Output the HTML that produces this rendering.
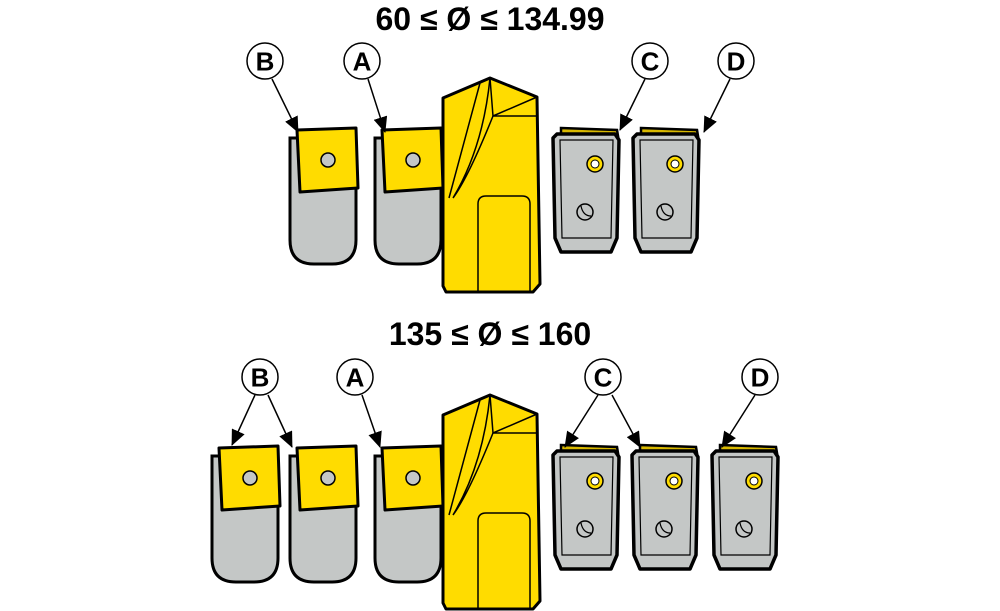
<!DOCTYPE html>
<html><head><style>html,body{margin:0;padding:0;background:#fff;}svg{display:block}</style></head>
<body>
<svg width="1000" height="611" viewBox="0 0 1000 611" xmlns="http://www.w3.org/2000/svg">
<defs>
<marker id="ah" markerWidth="16" markerHeight="14" refX="15" refY="7" orient="auto" markerUnits="userSpaceOnUse"><path d="M0,0 L16,7 L0,14z" fill="#000"/></marker>
<g id="holder">
  <path d="M0,8 L0,110 Q0,134 24,134 L42,134 Q66,134 66,110 L66,8 Z" fill="#c4c7c6" stroke="#000" stroke-width="3"/>
  <path d="M7,0 L66,-2 L68,58 L10,62 Z" fill="#ffdc00" stroke="#000" stroke-width="3" stroke-linejoin="round"/>
  <circle cx="38" cy="30" r="7" fill="#c4c7c6" stroke="#000" stroke-width="1.5"/>
</g>
<g id="drill">
  <path d="M0,20 L47,0 L94,19 L97,206 L90,214 L3,214 L0,208 Z" fill="#ffdc00" stroke="#000" stroke-width="3" stroke-linejoin="round"/>
  <path d="M47,0 L50,38 L94,19 M50,38 L95,38" fill="none" stroke="#000" stroke-width="1.5"/>
  <path d="M37,5 L6,120 M47,0 Q40,70 10,120 M50,38 Q25,100 10,120" fill="none" stroke="#000" stroke-width="1.5"/>
  <path d="M35,214 L35,126 Q35,118 43,118 L79,118 Q87,118 87,126 L87,214" fill="none" stroke="#000" stroke-width="1.5"/>
</g>
<g id="cart">
  <path d="M8,0 L64,2 L66,14 L8,12 Z" fill="#d8b800" stroke="#000" stroke-width="2.5"/>
  <path d="M0,10 L4,6 L62,6 L66,12 L64,110 L58,124 L8,124 L2,110 Z" fill="#c4c7c6" stroke="#000" stroke-width="3.5" stroke-linejoin="round"/>
  <path d="M7,12 L60,12 L58,110 L9,110 Z" fill="none" stroke="#000" stroke-width="1.2"/>
  <circle cx="42" cy="36" r="8" fill="#ffdc00" stroke="#000" stroke-width="1.5"/>
  <circle cx="42" cy="36" r="4" fill="#fff" stroke="#000" stroke-width="1"/>
  <circle cx="32" cy="84" r="8" fill="none" stroke="#000" stroke-width="1.5"/>
  <path d="M28,78 Q30,88 38,88" fill="none" stroke="#000" stroke-width="1.2"/>
</g>
</defs>
<g font-family="Liberation Sans, sans-serif" font-weight="bold" text-anchor="middle">
<text x="490" y="30" font-size="32">60 ≤ Ø ≤ 134.99</text>
<text x="490" y="345" font-size="32">135 ≤ Ø ≤ 160</text>
</g>
<use href="#holder" x="290" y="130"/>
<use href="#holder" x="375" y="130"/>
<use href="#drill" x="443" y="78"/>
<use href="#cart" x="553" y="128"/>
<use href="#cart" x="633" y="128"/>
<use href="#holder" x="212" y="448"/>
<use href="#holder" x="290" y="448"/>
<use href="#holder" x="375" y="448"/>
<use href="#drill" x="443" y="395"/>
<use href="#cart" x="553" y="445"/>
<use href="#cart" x="632" y="445"/>
<use href="#cart" x="712" y="445"/>
<g stroke="#000" stroke-width="1.5" marker-end="url(#ah)">
<line x1="272" y1="79" x2="298" y2="132"/>
<line x1="368" y1="79" x2="385" y2="132"/>
<line x1="645" y1="79" x2="620" y2="130"/>
<line x1="730" y1="79" x2="704" y2="132"/>
<line x1="255" y1="395" x2="232" y2="445"/>
<line x1="268" y1="395" x2="292" y2="447"/>
<line x1="362" y1="395" x2="380" y2="447"/>
<line x1="598" y1="395" x2="565" y2="447"/>
<line x1="612" y1="395" x2="640" y2="447"/>
<line x1="755" y1="395" x2="722" y2="447"/>
</g>
<g font-family="Liberation Sans, sans-serif" font-weight="bold" font-size="26" text-anchor="middle">
<g fill="#fff" stroke="#000" stroke-width="1.5">
<circle cx="265" cy="61" r="18"/><circle cx="362" cy="61" r="18"/><circle cx="650" cy="61" r="18"/><circle cx="736" cy="61" r="18"/>
<circle cx="260" cy="377" r="18"/><circle cx="355" cy="377" r="18"/><circle cx="603" cy="377" r="18"/><circle cx="760" cy="377" r="18"/>
</g>
<text x="265" y="70.5">B</text><text x="362" y="70.5">A</text><text x="650" y="70.5">C</text><text x="736" y="70.5">D</text>
<text x="260" y="386.5">B</text><text x="355" y="386.5">A</text><text x="603" y="386.5">C</text><text x="760" y="386.5">D</text>
</g>
</svg>
</body></html>
